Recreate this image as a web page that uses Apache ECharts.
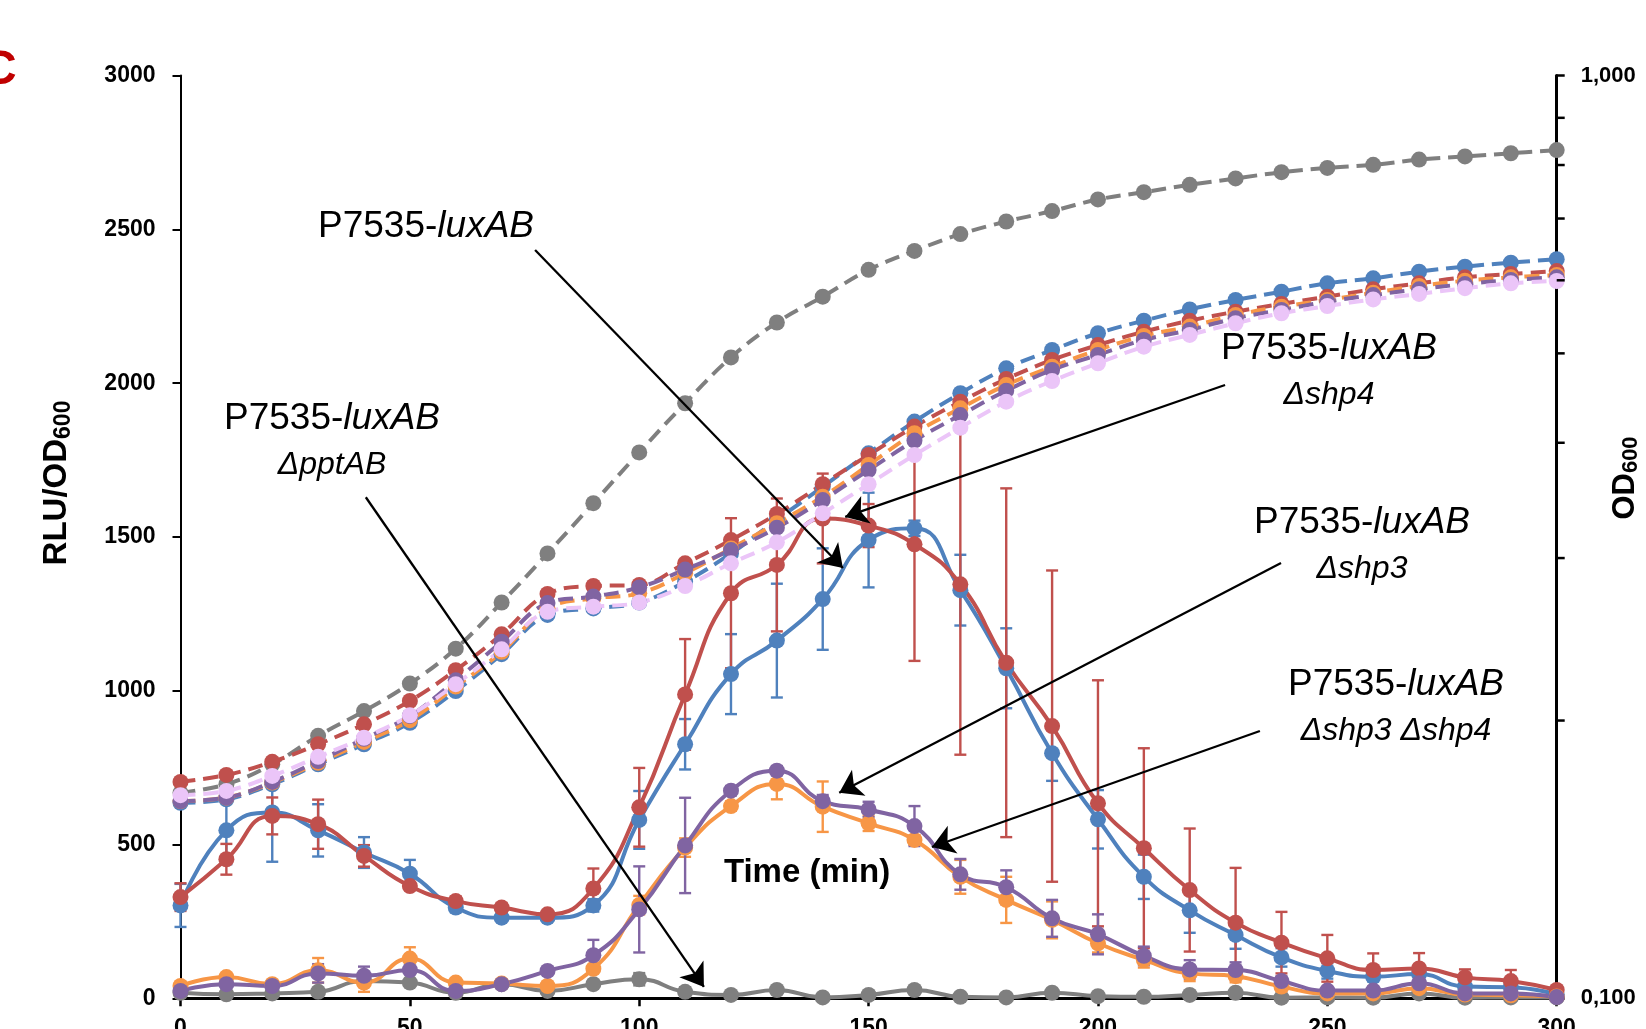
<!DOCTYPE html>
<html><head><meta charset="utf-8">
<script src="https://cdn.jsdelivr.net/npm/echarts/dist/echarts.min.js"></script>
<style>html,body{margin:0;padding:0;background:#fff}#c{width:1646px;height:1029px}</style>
</head><body><div id="c"></div><script>
// ---- data ----
const times = [0,10,20,30,40,50,60,70,80,90,100,110,120,130,140,150,160,170,180,190,200,210,220,230,240,250,260,270,280,290,300];
const xTicks = [0,50,100,150,200,250,300];
const yTicks = [0,500,1000,1500,2000,2500,3000];
const odMinorTicks = [0.2,0.3,0.4,0.5,0.6,0.7,0.8,0.9];

// RLU/OD600 (left axis)
const rluWT    = [302,546,604,546,474,405,295,262,262,302,580,826,1054,1163,1298,1490,1528,1327,1073,797,582,395,286,206,133,89,70,79,38,36,13];
const errWT    = [70,110,160,85,50,45,15,10,10,20,94,82,130,185,165,154,25,115,130,90,95,72,73,45,30,25,15,15,10,10,5];
const rluShp4  = [329,452,593,566,463,365,316,295,273,357,621,988,1317,1409,1560,1537,1476,1346,1091,885,634,488,352,246,181,130,92,97,68,56,27];
const errShp4  = [45,50,60,80,35,10,15,15,10,65,128,180,244,216,146,70,379,554,567,506,400,325,200,178,100,76,54,50,26,36,10];
const rluShp3  = [40,69,46,91,51,129,51,48,40,96,303,490,625,697,623,569,515,395,320,255,179,125,81,72,38,16,16,33,12,10,6];
const errShp3  = [10,10,10,40,30,37,12,12,10,10,30,30,15,50,82,25,15,55,75,60,30,25,25,20,15,10,8,8,5,5,3];
const rluShp34 = [24,46,40,81,73,92,24,46,89,140,289,497,675,740,641,614,560,403,361,260,208,138,94,92,56,25,25,49,16,16,4];
const errShp34 = [8,10,10,30,30,10,10,10,10,50,140,155,15,15,20,25,65,50,55,60,65,30,30,25,15,10,10,10,5,5,3];
const rluPpt   = [18,13,16,21,56,51,18,46,24,46,62,21,11,27,3,11,27,5,3,18,7,5,11,18,2,3,2,16,2,3,3];
const errPpt   = [5,5,5,5,10,8,5,8,5,8,20,15,5,5,3,5,5,3,3,5,3,3,5,5,2,2,2,5,2,2,2];

// OD600 (right log axis)
const odPpt    = [0.167,0.1706,0.1793,0.1925,0.2048,0.2193,0.2393,0.2685,0.3035,0.344,0.3905,0.4415,0.495,0.54,0.576,0.6159,0.6457,0.6733,0.6948,0.7132,0.7341,0.7476,0.7615,0.7736,0.7858,0.7942,0.8004,0.811,0.8174,0.8238,0.8303];
const odWT     = [0.1629,0.1643,0.1706,0.1793,0.1885,0.1989,0.2153,0.236,0.2603,0.2646,0.2685,0.2828,0.3035,0.33,0.3585,0.3896,0.4217,0.4526,0.4817,0.5042,0.5257,0.5425,0.558,0.5712,0.5832,0.5955,0.603,0.6131,0.6208,0.627,0.6324];
const odShp4   = [0.1716,0.1746,0.1804,0.1885,0.1981,0.21,0.2268,0.248,0.2743,0.2798,0.2805,0.2961,0.3138,0.3349,0.3607,0.388,0.4165,0.4432,0.469,0.4918,0.5105,0.5278,0.5425,0.5548,0.5656,0.576,0.5867,0.5955,0.6045,0.6095,0.614];
const odShp3   = [0.1636,0.165,0.1713,0.18,0.1896,0.2002,0.2177,0.2374,0.2646,0.2713,0.2747,0.2888,0.3073,0.3272,0.3496,0.3784,0.4097,0.4359,0.462,0.4836,0.5042,0.5223,0.5345,0.5502,0.5617,0.5712,0.5817,0.5916,0.5994,0.6045,0.608];
const odShp34  = [0.1636,0.165,0.1716,0.1808,0.1911,0.2023,0.2211,0.2435,0.2681,0.2725,0.2788,0.2915,0.306,0.3236,0.3467,0.3737,0.4022,0.4286,0.4555,0.4797,0.4981,0.517,0.5301,0.5458,0.5572,0.5688,0.5783,0.5867,0.5944,0.6005,0.6045];
const odExtra  = [0.166,0.1678,0.1742,0.1827,0.1916,0.2026,0.219,0.2389,0.2624,0.2657,0.2685,0.2798,0.2961,0.312,0.3354,0.3607,0.388,0.4154,0.4432,0.4667,0.4878,0.5084,0.5236,0.539,0.5526,0.5627,0.5721,0.5799,0.5883,0.5955,0.599];

// annotation arrows in data coords [t0, v0, t1, v1] (left axis)
const arrowWT    = [77.3, 2433, 144.4, 1399];
const arrowPpt   = [40.4, 1629, 114.1, 37];
const arrowShp4  = [227.7, 1994, 144.9, 1565];
const arrowShp3  = [239.9, 1415, 143.6, 668];
const arrowShp34 = [235.3, 869, 163.8, 492];

// ---- styling ----
const C = {blue:'#4F81BD', red:'#C0504D', orange:'#F79646', purple:'#8064A2', gray:'#7F7F7F', pink:'#EBC5F8'};
const FONT = "'Liberation Sans', Arial, sans-serif";

function pairs(ys){ return times.map((t,i)=>[t, ys[i]]); }

function solid(name, ys, color){
  return {type:'line', name, data:pairs(ys), xAxisIndex:0, yAxisIndex:0, smooth:0.5,
    symbol:'circle', symbolSize:16, showSymbol:true,
    lineStyle:{color, width:4}, itemStyle:{color},
    emphasis:{disabled:true}, silent:true, z:2};
}
function dashed(name, ys, color){
  return {type:'line', name, data:pairs(ys), xAxisIndex:0, yAxisIndex:1, smooth:0.4,
    symbol:'circle', symbolSize:16,
    lineStyle:{color, width:4, type:[15,8]}, itemStyle:{color},
    emphasis:{disabled:true}, silent:true, z:2};
}
function errBars(name, ys, es, color){
  return {type:'custom', name, xAxisIndex:0, yAxisIndex:0, silent:true, clip:false, z:2,
    data: times.map((t,i)=>[t, Math.max(ys[i]-es[i],0), ys[i]+es[i]]),
    encode:{x:0, y:[1,2]},
    renderItem:(params, api)=>{
      const x = api.value(0);
      const lo = api.coord([x, api.value(1)]);
      const hi = api.coord([x, api.value(2)]);
      const w = 6;
      const st = {stroke:color, lineWidth:2.4};
      return {type:'group', children:[
        {type:'line', shape:{x1:lo[0],y1:lo[1],x2:hi[0],y2:hi[1]}, style:st},
        {type:'line', shape:{x1:lo[0]-w,y1:lo[1],x2:lo[0]+w,y2:lo[1]}, style:st},
        {type:'line', shape:{x1:hi[0]-w,y1:hi[1],x2:hi[0]+w,y2:hi[1]}, style:st}
      ]};
    }};
}

const arrows = [arrowWT, arrowPpt, arrowShp4, arrowShp3, arrowShp34];

function annot(x, y, top, bottom){
  const rich = {
    r:{fontFamily:FONT, fontSize:37, color:'#000'},
    i:{fontFamily:FONT, fontSize:37, fontStyle:'italic', color:'#000'},
    s:{fontFamily:FONT, fontSize:32, fontStyle:'italic', color:'#000'}
  };
  const els = [{type:'text', x, y, z:100, style:{text:'{r|P7535-}{i|luxAB}', rich, align:'center', verticalAlign:'middle'}}];
  if (bottom) els.push({type:'text', x, y:y+46, z:100, style:{text:'{s|'+bottom+'}', rich, align:'center', verticalAlign:'middle'}});
  return els;
}

const chart = echarts.init(document.getElementById('c'), null, {renderer:'canvas'});
const option = {
  animation:false,
  backgroundColor:'#fff',
  grid:{left:180.5, right:89.3, top:75.6, bottom:30.7, containLabel:false, outerBoundsMode:'none'},
  xAxis:{type:'value', min:0, max:300, interval:50,
    axisLine:{show:true, lineStyle:{color:'#000', width:3}},
    axisTick:{show:true, length:8, lineStyle:{color:'#000', width:2.5}},
    axisLabel:{margin:19, color:'#000', fontFamily:FONT, fontWeight:'bold', fontSize:23,
      formatter:v=> xTicks.includes(v) ? String(v) : ''},
    splitLine:{show:false}},
  yAxis:[
    {type:'value', min:0, max:3000, interval:500, position:'left',
      axisLine:{show:true, lineStyle:{color:'#000', width:2}},
      axisTick:{show:true, length:8, lineStyle:{color:'#000', width:2}},
      axisLabel:{margin:25, color:'#000', fontFamily:FONT, fontWeight:'bold', fontSize:23,
        formatter:v=> yTicks.includes(v) ? String(v) : ''},
      splitLine:{show:false}},
    {type:'log', logBase:10, min:0.1, max:1, position:'right',
      axisLine:{show:true, lineStyle:{color:'#000', width:3}},
      axisTick:{show:true, length:8, lineStyle:{color:'#000', width:2.5}},
      axisLabel:{margin:24, color:'#000', fontFamily:FONT, fontWeight:'bold', fontSize:22,
        formatter:v=> Number(v).toFixed(3).replace('.', ',')},
      splitLine:{show:false}, minorTick:{show:false}}
  ],
  series:[
    Object.assign(solid('ΔpptAB RLU', rluPpt, C.gray), {markLine:{
      silent:true, animation:false, symbol:['none','arrow'], symbolSize:22,
      lineStyle:{color:'#000', width:2.3, type:'solid'}, itemStyle:{color:'#000'}, label:{show:false},
      emphasis:{disabled:true}, z:50,
      data: arrows.map(a=>[{coord:[a[0],a[1]]},{coord:[a[2],a[3]]}])
    }}),
    errBars('ΔpptAB err', rluPpt, errPpt, C.gray),
    errBars('WT err', rluWT, errWT, C.blue),
    solid('WT RLU', rluWT, C.blue),
    errBars('Δshp4 err', rluShp4, errShp4, C.red),
    solid('Δshp4 RLU', rluShp4, C.red),
    errBars('Δshp3 err', rluShp3, errShp3, C.orange),
    solid('Δshp3 RLU', rluShp3, C.orange),
    errBars('Δshp3Δshp4 err', rluShp34, errShp34, C.purple),
    solid('Δshp3Δshp4 RLU', rluShp34, C.purple),
    dashed('ΔpptAB OD', odPpt, C.gray),
    dashed('WT OD', odWT, C.blue),
    dashed('Δshp4 OD', odShp4, C.red),
    dashed('Δshp3 OD', odShp3, C.orange),
    dashed('Δshp3Δshp4 OD', odShp34, C.purple),
    dashed('extra OD', odExtra, C.pink),
    {type:'custom', name:'od minor ticks', xAxisIndex:0, yAxisIndex:1, silent:true, clip:false, z:3,
      data: odMinorTicks.map(v=>[300, v]), encode:{x:0, y:1},
      renderItem:(params, api)=>{
        const p = api.coord([api.value(0), api.value(1)]);
        return {type:'line', shape:{x1:p[0], y1:p[1], x2:p[0]+8, y2:p[1]}, style:{stroke:'#000', lineWidth:2.5}};
      }}
  ],
  graphic:[
    {type:'text', x:-18, y:47, style:{text:'C', fontFamily:FONT, fontWeight:'bold', fontSize:48, fill:'#C00000'}},
    {type:'text', x:57, y:483, rotation:Math.PI/2, style:{text:'{a|RLU/OD}{b|600}', align:'center', verticalAlign:'middle',
      rich:{a:{fontFamily:FONT, fontWeight:'bold', fontSize:33, color:'#000', lineHeight:36},
            b:{fontFamily:FONT, fontWeight:'bold', fontSize:23, color:'#000', lineHeight:36, verticalAlign:'bottom'}}}},
    {type:'text', x:1625, y:478, rotation:Math.PI/2, style:{text:'{a|OD}{b|600}', align:'center', verticalAlign:'middle',
      rich:{a:{fontFamily:FONT, fontWeight:'bold', fontSize:31, color:'#000', lineHeight:34},
            b:{fontFamily:FONT, fontWeight:'bold', fontSize:22, color:'#000', lineHeight:34, verticalAlign:'bottom'}}}},
    {type:'text', x:807, y:873, z:100, style:{text:'Time (min)', fontFamily:FONT, fontWeight:'bold', fontSize:33, fill:'#000', align:'center', verticalAlign:'middle'}},
    ...annot(426, 227, true, null),
    ...annot(332, 419, true, 'ΔpptAB'),
    ...annot(1329, 349, true, 'Δshp4'),
    ...annot(1362, 523, true, 'Δshp3'),
    ...annot(1396, 685, true, 'Δshp3 Δshp4')
  ]
};
chart.setOption(option);
</script></body></html>
